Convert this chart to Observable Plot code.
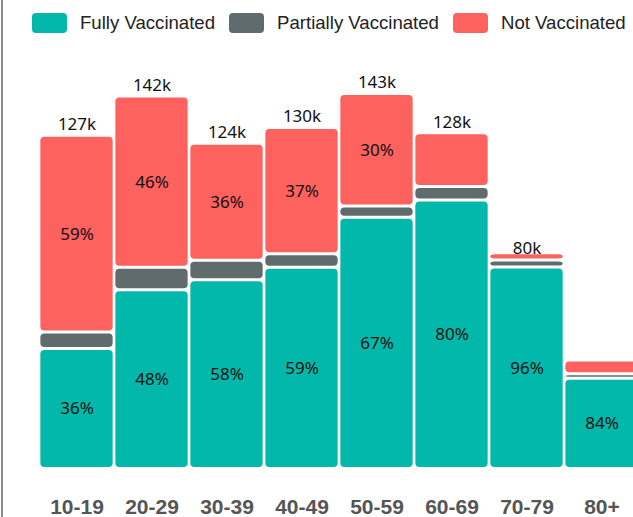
<!DOCTYPE html>
<html>
<head>
<meta charset="utf-8">
<script src="https://cdn.jsdelivr.net/npm/d3@7"></script>
<script src="https://cdn.jsdelivr.net/npm/@observablehq/plot@0.6"></script>
<style>
  html, body { margin: 0; padding: 0; background: #fff; }
  body { width: 633px; height: 517px; overflow: hidden; position: relative; }
  #border { position: absolute; left: 1px; top: 0; width: 2px; height: 517px; background: #8a8a8a; }
  #legend { position: absolute; top: 12px; left: 32px; display: flex; align-items: center;
            font-family: "Liberation Sans", Arial, sans-serif; font-size: 18.6px; color: #222; white-space: nowrap; }
  .item { display: flex; align-items: center; margin-right: 14px; }
  .sw { width: 35px; height: 20px; border-radius: 4px; margin-right: 13px; }
  #chart { position: absolute; top: 44px; left: 0; width: 640px; }
  #chart svg { max-width: none !important; }
</style>
</head>
<body>
<div id="border"></div>
<div id="legend"></div>
<div id="chart"></div>
<script>
const ageGroups = ["10-19", "20-29", "30-39", "40-49", "50-59", "60-69", "70-79", "80+"];
const totals = [127, 142, 124, 130, 143, 128, 80, 41];           // thousands
const totalLabels = ["127k", "142k", "124k", "130k", "143k", "128k", "80k", null];
const fullyPct = [36, 48, 58, 59, 67, 80, 96, 84];
const partialPct = [5, 6, 6, 4, 3, 4, 3.4, 4];
const notPct = [59, 46, 36, 37, 30, 16, 3.4, 13];
const seriesNames = ["Fully Vaccinated", "Partially Vaccinated", "Not Vaccinated"];
const seriesColors = ["#01B8AA", "#5F6B6D", "#FD625E"];

// legend
const legend = document.getElementById("legend");
seriesNames.forEach((s, i) => {
  const it = document.createElement("div");
  it.className = "item";
  it.innerHTML = `<div class="sw" style="background:${seriesColors[i]}"></div><span>${s}</span>`;
  legend.appendChild(it);
});

// build stacked rows
const pcts = [fullyPct, partialPct, notPct];
const rows = [];
ageGroups.forEach((g, gi) => {
  let base = 0;
  pcts.forEach((arr, si) => {
    const v = totals[gi] * arr[gi] / 100;
    rows.push({group: g, series: seriesNames[si], pct: arr[gi], y1: base, y2: base + v, mid: base + v / 2});
    base += v;
  });
});
const totalRows = ageGroups.map((g, i) => ({group: g, total: totals[i], label: totalLabels[i]}));

const labelFont = "'Noto Sans', 'Open Sans', sans-serif";

const chart = Plot.plot({
  width: 640,
  height: 473,
  marginLeft: 37.6,
  marginRight: 0,
  marginTop: 4.8,
  marginBottom: 48.5,
  style: {background: "transparent", overflow: "visible", maxWidth: "none"},
  x: {domain: ageGroups, padding: 0},
  y: {domain: [0, 160], axis: null},
  color: {domain: seriesNames, range: seriesColors},
  marks: [
    Plot.rectY(rows, {x: "group", y1: "y1", y2: "y2", fill: "series", rx: 4,
      insetLeft: 1.35, insetRight: 1.35, insetTop: 1.5, insetBottom: 1.5}),
    Plot.text(rows.filter(d => d.pct >= 20), {x: "group", y: "mid", text: d => d.pct + "%",
      fontSize: 17, fontFamily: labelFont, fill: "#111"}),
    Plot.text(totalRows.filter(d => d.label), {x: "group", y: "total", text: "label", dy: -11,
      fontSize: 17, fontFamily: labelFont, fill: "#111"}),
    Plot.axisX({tickSize: 0, tickPadding: 30, fontSize: 21, fontWeight: "bold",
      fill: "#555", fontFamily: "'Liberation Sans', Arial, sans-serif", label: null})
  ]
});
chart.style.maxWidth = "none";
document.getElementById("chart").appendChild(chart);
</script>
</body>
</html>
